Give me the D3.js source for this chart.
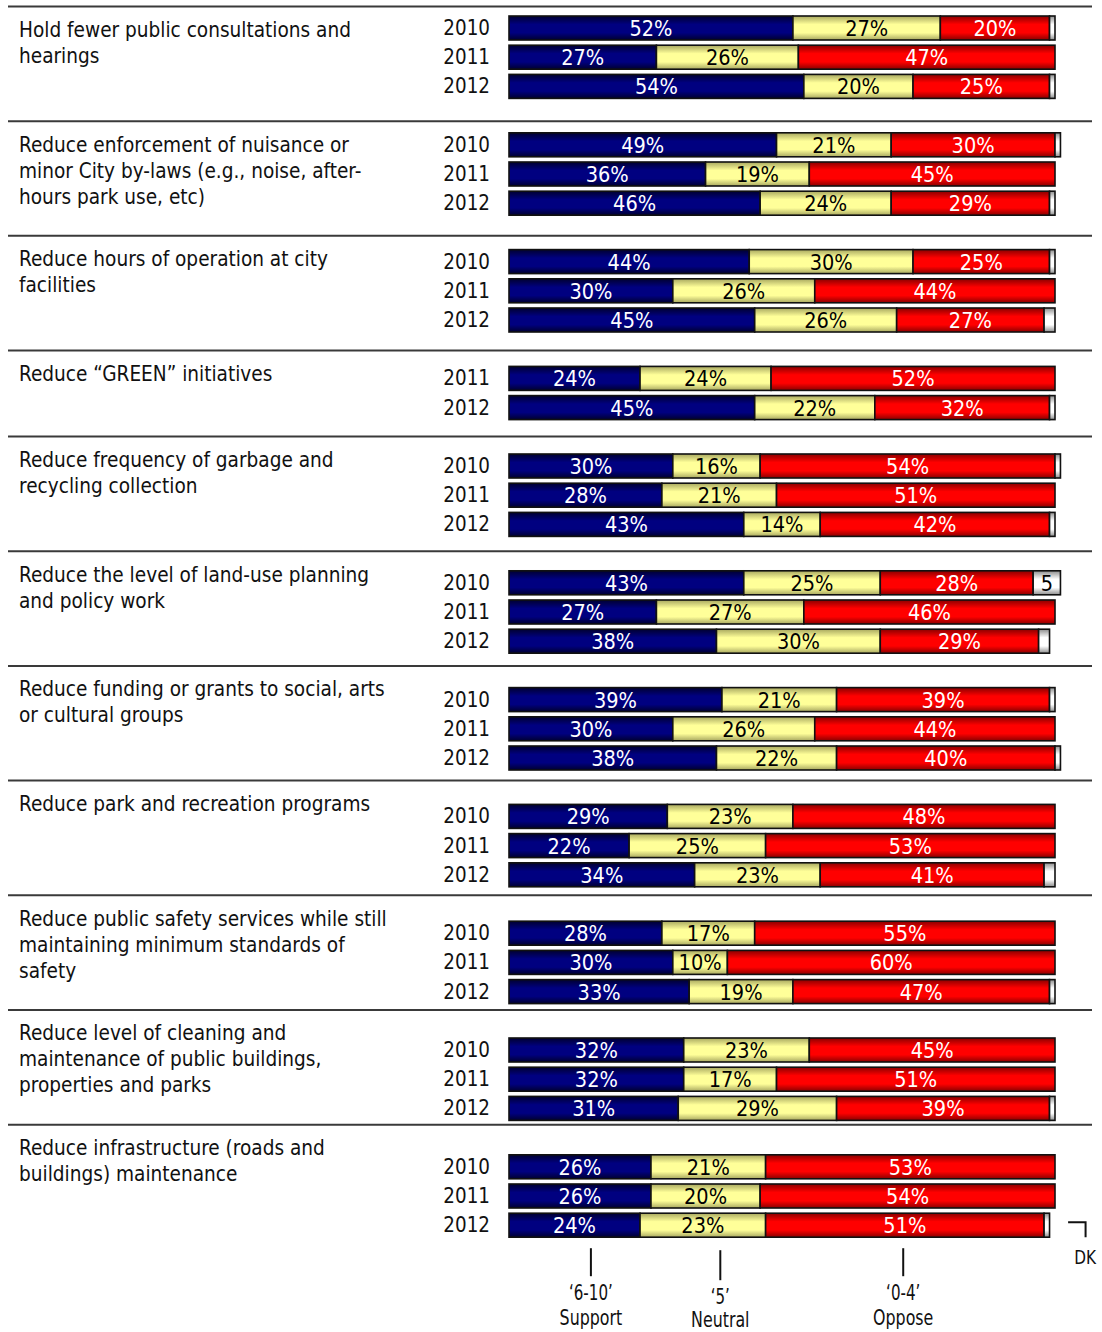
<!DOCTYPE html>
<html>
<head>
<meta charset="utf-8">
<script src="https://cdn.jsdelivr.net/npm/d3@7"></script>
<style>
  html, body { margin: 0; padding: 0; background: #fff; }
  svg { display: block; }
</style>
</head>
<body>
<div id="chart"></div>
<script>
// ---------- DATA ----------
const topics = [
  ["Hold fewer public consultations and", "hearings"],
  ["Reduce enforcement of nuisance or", "minor City by-laws (e.g., noise, after-", "hours park use, etc)"],
  ["Reduce hours of operation at city", "facilities"],
  ["Reduce \u201CGREEN\u201D initiatives"],
  ["Reduce frequency of garbage and", "recycling collection"],
  ["Reduce the level of land-use planning", "and policy work"],
  ["Reduce funding or grants to social, arts", "or cultural groups"],
  ["Reduce park and recreation programs"],
  ["Reduce public safety services while still", "maintaining minimum standards of", "safety"],
  ["Reduce level of cleaning and", "maintenance of public buildings,", "properties and parks"],
  ["Reduce infrastructure (roads and", "buildings) maintenance"]
];
const topicYears = [
  ["2010","2011","2012"], ["2010","2011","2012"], ["2010","2011","2012"],
  ["2011","2012"],
  ["2010","2011","2012"], ["2010","2011","2012"], ["2010","2011","2012"],
  ["2010","2011","2012"], ["2010","2011","2012"], ["2010","2011","2012"],
  ["2010","2011","2012"]
];
const support = [[52,27,54],[49,36,46],[44,30,45],[24,45],[30,28,43],[43,27,38],[39,30,38],[29,22,34],[28,30,33],[32,32,31],[26,26,24]];
const neutral = [[27,26,20],[21,19,24],[30,26,26],[24,22],[16,21,14],[25,27,30],[21,26,22],[23,25,23],[17,10,19],[23,17,29],[21,20,23]];
const oppose  = [[20,47,25],[30,45,29],[25,44,27],[52,32],[54,51,42],[28,46,29],[39,44,40],[48,53,41],[55,60,47],[45,51,39],[53,54,51]];
const dontKnow= [[1,0,1],[1,0,1],[1,0,2],[0,1],[1,0,1],[5,0,2],[1,0,1],[0,0,2],[0,0,1],[0,0,1],[0,0,1]];

const seriesKeys = ["support","neutral","oppose","dk"];
const legendItems = [
  { key: "support", code: "\u20186-10\u2019", name: "Support", at: 15 },
  { key: "neutral", code: "\u20185\u2019",    name: "Neutral", at: 38.7 },
  { key: "oppose",  code: "\u20180-4\u2019",  name: "Oppose",  at: 72.2 }
];
const dkLabel = "DK";

// ---------- STYLE ----------
const colors = {
  support: { base: "#000080", edge: "#000030", text: "#ffffff" },
  neutral: { base: "#ffff99", edge: "#a8a860", text: "#000000" },
  oppose:  { base: "#ff0000", edge: "#8a0000", text: "#ffffff" },
  dk:      { base: "#ffffff", edge: "#8c8c8c", text: "#000000" }
};
const labelFont = "'DejaVu Sans Condensed', 'DejaVu Sans', sans-serif";

// ---------- LAYOUT ----------
const W = 1102, H = 1332;
const svg = d3.select("#chart").append("svg").attr("width", W).attr("height", H);

const x = d3.scaleLinear().domain([0, 100]).range([509, 1055]);
const rowY = d3.scaleLinear().domain([0, 1]).range([28, 57.2]);     // slot -> bar centre
const sepY = d3.scaleLinear().domain([0, 1]).range([6.5, 35.17]);   // slot -> separator
const barH = 24;

// gradients
const defs = svg.append("defs");
seriesKeys.forEach(k => {
  const g = defs.append("linearGradient").attr("id", "g-" + k)
    .attr("x1", 0).attr("y1", 0).attr("x2", 0).attr("y2", 1);
  g.append("stop").attr("offset", "0%").attr("stop-color", colors[k].edge);
  g.append("stop").attr("offset", "35%").attr("stop-color", colors[k].base);
  g.append("stop").attr("offset", "70%").attr("stop-color", colors[k].base);
  g.append("stop").attr("offset", "100%").attr("stop-color", colors[k].edge);
});

// build row records
const rows = [];
const sections = [];
let slot = 0;
topics.forEach((lines, t) => {
  sections.push({ lines, slot });
  topicYears[t].forEach((yr, i) => {
    const vals = { support: support[t][i], neutral: neutral[t][i], oppose: oppose[t][i], dk: dontKnow[t][i] };
    let cum = 0;
    const segs = seriesKeys.map(k => {
      const s = { key: k, v: vals[k], x0: cum, x1: cum + vals[k] };
      cum += vals[k];
      return s;
    }).filter(s => s.v > 0);
    rows.push({ year: yr, slot: slot + i, segs });
  });
  slot += topicYears[t].length + 1;
});

// separators
svg.append("g").selectAll("line").data(sections).join("line")
  .attr("x1", 8).attr("x2", 1092)
  .attr("y1", d => sepY(d.slot)).attr("y2", d => sepY(d.slot))
  .attr("stroke", "#3a3a3a").attr("stroke-width", 2);

// topic labels
const lab = svg.append("g").selectAll("text").data(sections).join("text")
  .attr("x", 19)
  .attr("y", d => sepY(d.slot) + 30.5)
  .attr("font-family", labelFont).attr("font-size", 20.6).attr("fill", "#111");
lab.selectAll("tspan").data(d => d.lines).join("tspan")
  .attr("x", 19).attr("dy", (d, i) => i === 0 ? 0 : 26).text(d => d);

// rows
const rg = svg.append("g").selectAll("g").data(rows).join("g")
  .attr("transform", d => `translate(0,${rowY(d.slot)})`);

rg.append("text")
  .attr("x", 490).attr("y", 7).attr("text-anchor", "end")
  .attr("font-family", labelFont).attr("font-size", 20.4).attr("fill", "#111")
  .text(d => d.year);

const seg = rg.selectAll("g.seg").data(d => d.segs).join("g").attr("class", "seg");
seg.append("rect")
  .attr("x", d => x(d.x0)).attr("y", -barH / 2)
  .attr("width", d => x(d.x1) - x(d.x0)).attr("height", barH)
  .attr("fill", d => `url(#g-${d.key})`)
  .attr("stroke", "#111").attr("stroke-width", 1.6);
seg.filter(d => d.key !== "dk" || d.v >= 3).append("text")
  .attr("x", d => (x(d.x0) + x(d.x1)) / 2).attr("y", 8)
  .attr("text-anchor", "middle")
  .attr("font-family", labelFont).attr("font-size", 21.5)
  .attr("fill", d => colors[d.key].text)
  .text(d => d.key === "dk" ? d.v : d.v + "%");

// legend
const lastY = rowY(slot - 2);
const lg = svg.append("g").selectAll("g").data(legendItems).join("g")
  .attr("transform", d => `translate(${x(d.at)},0)`);
lg.append("line").attr("x1", 0).attr("x2", 0)
  .attr("y1", d => d.key === "neutral" ? lastY + 25 : lastY + 23)
  .attr("y2", d => d.key === "neutral" ? lastY + 55 : lastY + 51)
  .attr("stroke", "#111").attr("stroke-width", 2);
lg.append("text").attr("text-anchor", "middle")
  .attr("transform", d => `translate(0,${d.key === "neutral" ? lastY + 79 : lastY + 75}) scale(0.8,1)`)
  .attr("font-family", labelFont).attr("font-size", 21).attr("fill", "#111")
  .text(d => d.code);
lg.append("text").attr("text-anchor", "middle")
  .attr("transform", d => `translate(0,${d.key === "neutral" ? lastY + 102 : lastY + 100}) scale(0.8,1)`)
  .attr("font-family", labelFont).attr("font-size", 22).attr("fill", "#111")
  .text(d => d.name);

// DK bracket
svg.append("path")
  .attr("d", `M${x(102.4)},${lastY - 3}H${x(105.6)}V${lastY + 12}`)
  .attr("fill", "none").attr("stroke", "#111").attr("stroke-width", 2);
svg.append("text")
  .attr("transform", `translate(${x(105.5)},${lastY + 39}) scale(0.85,1)`)
  .attr("text-anchor", "middle")
  .attr("font-family", labelFont).attr("font-size", 20).attr("fill", "#111")
  .text(dkLabel);
</script>
</body>
</html>
